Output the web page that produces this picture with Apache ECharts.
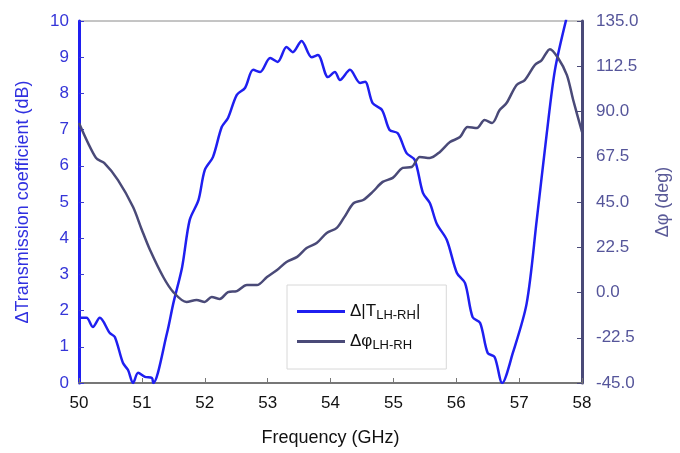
<!DOCTYPE html>
<html>
<head>
<meta charset="utf-8">
<script src="https://cdn.jsdelivr.net/npm/echarts@6/dist/echarts.min.js"></script>
<style>
  html, body { margin: 0; padding: 0; background: #fff; }
  #chart { width: 680px; height: 453px; }
</style>
</head>
<body>
<div id="chart"></div>
<script>
// frequency (GHz) / ΔT (dB)
const freqT = [50.0, 50.12, 50.22, 50.33, 50.49, 50.57, 50.7, 50.78, 50.86, 50.94, 51.05, 51.16, 51.18,
  51.4, 51.5, 51.64, 51.76, 51.9, 52.0, 52.13, 52.27, 52.37, 52.51, 52.64, 52.77, 52.88, 53.04, 53.16,
  53.3, 53.4, 53.54, 53.7, 53.8, 53.96, 54.07, 54.15, 54.31, 54.47, 54.55, 54.67, 54.82, 54.94, 55.07,
  55.21, 55.34, 55.47, 55.58, 55.69, 55.85, 56.01, 56.14, 56.26, 56.38, 56.5, 56.61, 56.73, 56.9,
  57.12, 57.28, 57.44, 57.57, 57.75];
const valT = [1.8, 1.8, 1.55, 1.8, 1.38, 1.27, 0.55, 0.36, 0.0, 0.28, 0.17, 0.14, 0.0,
  1.38, 2.2, 3.2, 4.5, 5.05, 5.88, 6.24, 7.07, 7.32, 7.96, 8.15, 8.65, 8.59, 8.98, 8.87,
  9.28, 9.14, 9.45, 9.0, 9.06, 8.45, 8.59, 8.37, 8.65, 8.29, 8.32, 7.73, 7.54, 6.99, 6.9,
  6.35, 6.16, 5.25, 4.97, 4.4, 3.95, 3.04, 2.76, 1.82, 1.66, 0.83, 0.72, 0.0, 0.83,
  2.2, 4.5, 6.9, 8.65, 10.05];

// frequency (GHz) / Δφ (deg)
const freqP = [50.0, 50.27, 50.4, 50.62, 50.86, 51.0, 51.13, 51.34, 51.5, 51.71, 51.87, 52.0, 52.11,
  52.24, 52.37, 52.51, 52.67, 52.83, 52.99, 53.15, 53.3, 53.47, 53.62, 53.78, 53.94, 54.1, 54.22,
  54.37, 54.52, 54.67, 54.83, 54.99, 55.15, 55.29, 55.42, 55.58, 55.74, 55.9, 56.06, 56.18, 56.33,
  56.45, 56.57, 56.69, 56.8, 56.96, 57.09, 57.25, 57.36, 57.49, 57.62, 57.76, 57.86, 58.0];
const valP = [84.3, 66.9, 64.4, 55.9, 42.5, 31.1, 21.1, 7.7, 0.2, -4.7, -3.7, -4.7, -2.2,
  -3.2, 0.2, 0.7, 3.7, 3.7, 7.7, 11.2, 15.2, 17.7, 22.1, 24.6, 29.6, 32.1, 37.5,
  44.5, 46, 50, 55, 57, 62, 62.4, 67.4, 66.9, 69.9, 74.8, 77.3, 82.3, 81.8,
  85.8, 84.3, 90.7, 94.2, 103.2, 105.6, 113.1, 115.6, 121, 116.6, 108.1, 95.7, 79.8];

const font = 'Liberation Sans, Arial, sans-serif';
const blue = '#1f1ff0';
const slate = '#4a4a78';

const chart = echarts.init(document.getElementById('chart'));

chart.setOption({
  animation: false,
  backgroundColor: '#fff',
  grid: {
    left: 79, right: 98, top: 21, bottom: 70,
    show: true, borderColor: '#8a8a8a', borderWidth: 1
  },
  legend: {
    left: 287, top: 285,
    orient: 'vertical',
    padding: [18, 26, 17, 10],
    icon: 'rect',
    itemWidth: 48, itemHeight: 3, itemGap: 11,
    borderColor: '#d8d8d8', borderWidth: 1,
    textStyle: {
      fontFamily: font, color: '#111',
      rich: {
        a: { fontSize: 17, fontFamily: font, color: '#111' },
        s: { fontSize: 13, fontFamily: font, color: '#111', padding: [8, 0, 0, 0] }
      }
    },
    formatter: name => name === 'dT' ? '{a|Δ|T}{s|LH-RH}{a||}' : '{a|Δφ}{s|LH-RH}',
    data: ['dT', 'dP']
  },
  xAxis: {
    type: 'value', min: 50, max: 58, interval: 1,
    name: 'Frequency (GHz)', nameLocation: 'middle', nameGap: 46,
    nameTextStyle: { fontFamily: font, fontSize: 18, color: '#111' },
    axisLine: { lineStyle: { color: '#777', width: 2 } },
    axisTick: { inside: true, length: 5, lineStyle: { color: '#777' } },
    axisLabel: { fontFamily: font, fontSize: 17, color: '#111', margin: 12 },
    splitLine: { show: false }
  },
  yAxis: [
    {
      type: 'value', min: 0, max: 10, interval: 1, position: 'left',
      name: 'ΔTransmission coefficient (dB)', nameLocation: 'middle', nameGap: 47, nameRotate: 90,
      nameTextStyle: { fontFamily: font, fontSize: 18, color: '#3030e0' },
      axisLine: { show: true, lineStyle: { color: blue, width: 3 } },
      axisTick: { show: true, inside: true, length: 5, lineStyle: { color: '#3a3ad0' } },
      axisLabel: { fontFamily: font, fontSize: 17, color: '#3535d8', margin: 10 },
      splitLine: { show: false }
    },
    {
      type: 'value', min: -45, max: 135, interval: 22.5, position: 'right',
      name: 'Δφ (deg)', nameLocation: 'middle', nameGap: 72, nameRotate: 90,
      nameTextStyle: { fontFamily: font, fontSize: 18, color: '#5a5a98' },
      axisLine: { show: true, lineStyle: { color: slate, width: 3 } },
      axisTick: { show: true, inside: true, length: 5, lineStyle: { color: slate } },
      axisLabel: { fontFamily: font, fontSize: 17, color: '#55559a', margin: 14,
        formatter: v => v.toFixed(1) },
      splitLine: { show: false }
    }
  ],
  series: [
    {
      name: 'dT', type: 'line', yAxisIndex: 0,
      data: freqT.map((f, i) => [f, valT[i]]),
      symbol: 'none', smooth: 0.3, clip: true,
      lineStyle: { color: blue, width: 2.5 },
      itemStyle: { color: blue }
    },
    {
      name: 'dP', type: 'line', yAxisIndex: 1,
      data: freqP.map((f, i) => [f, valP[i]]),
      symbol: 'none', smooth: 0.3, clip: true,
      lineStyle: { color: slate, width: 2.5 },
      itemStyle: { color: slate }
    }
  ]
});
</script>
</body>
</html>
